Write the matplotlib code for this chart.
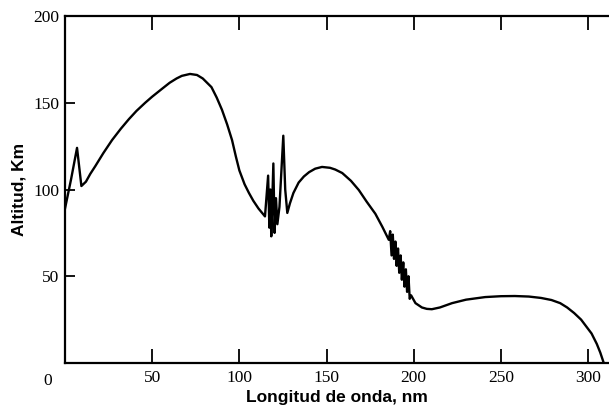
import numpy as np
import matplotlib
matplotlib.use("Agg")
import matplotlib.pyplot as plt

# curva: longitud de onda (nm) vs altitud (km)
onda = [0, 3.5, 6.9, 9.4,
        12, 14.5, 17.4, 22, 27, 32, 36.6, 41, 46, 50, 55.6, 60, 64, 67, 71.7,
        75.7, 79, 84, 87, 90, 93, 95.8, 98, 100, 103, 105.5, 108, 111, 114.7,
        116.5, 117.2, 117.8, 118.3, 119.5, 120.2, 121, 121.8, 123, 125.2, 126.3, 127.5,
        129, 131, 134, 137, 140, 143.5, 147.4, 152, 155, 159, 164, 168.5, 173,
        178, 182, 185.7,
        186.5, 187.3, 188, 188.7, 189.5, 190.2, 191, 191.7, 192.5, 193.2, 194,
        194.7, 195.5, 196.2, 197, 197.7,
        198.5, 201, 204.7, 207.5, 210.4, 215, 222, 230, 241, 250, 258, 266, 273,
        279, 284, 288, 292, 296, 299, 302, 305, 307, 309]
altitud = [89, 106, 124, 102,
           104.5, 109, 113.5, 121, 128.5, 135, 140.5, 145.3, 150, 153.5, 158,
           161.5, 164, 165.5, 166.6, 166, 164, 159, 153, 146, 137.5, 128.5, 119,
           111, 103, 98, 93.5, 89, 84.5,
           108, 78, 100, 73, 115, 75, 95, 80, 90, 131, 100, 86.5,
           92, 98, 104, 107.5, 110, 112, 113, 112.5, 111.5, 109.5, 105, 99.7, 93,
           86, 78.5, 71,
           76, 62, 74, 60, 70, 56, 66, 52, 62, 48, 58,
           44, 54, 41, 50, 37,
           39, 34.5, 32, 31.2, 31, 32, 34.5, 36.5, 38, 38.5, 38.6, 38.3, 37.5,
           36.3, 34.5, 32, 28.8, 25, 21, 17, 11, 6, 0]

xticks = [50, 100, 150, 200, 250, 300]
yticks = [50, 100, 150, 200]

fig = plt.figure(figsize=(6.09, 4.18), dpi=100)
ax = fig.add_axes([65 / 609, 55 / 418, 544 / 609, 347 / 418])

ax.plot(onda, altitud, color="black", lw=1.7, solid_joinstyle="round")

ax.set_xlim(0, 312)
ax.set_ylim(0, 200)
ax.spines["right"].set_visible(False)
for s in ["left", "bottom", "top"]:
    ax.spines[s].set_linewidth(1.6)

ax.set_xticks(xticks)
ax.set_yticks(yticks)
ax.tick_params(axis="x", direction="in", length=10, width=1.3, top=True,
               labelsize=12.5, pad=5)
ax.tick_params(axis="y", direction="in", length=7, width=1.3, labelsize=12.5, pad=4)
for lab in ax.get_xticklabels() + ax.get_yticklabels():
    lab.set_family("Liberation Serif")

# el cero comun de ambos ejes
ax.text(-10, -6, "0", fontsize=12.5, family="Liberation Serif", ha="center",
        va="top", clip_on=False)

ax.set_xlabel("Longitud de onda, nm", fontsize=12.5, fontweight="bold",
              family="Liberation Sans", labelpad=3)
ax.set_ylabel("Altitud, Km", fontsize=12.5, fontweight="bold",
              family="Liberation Sans", labelpad=5)

fig.savefig("out.png", dpi=100)
